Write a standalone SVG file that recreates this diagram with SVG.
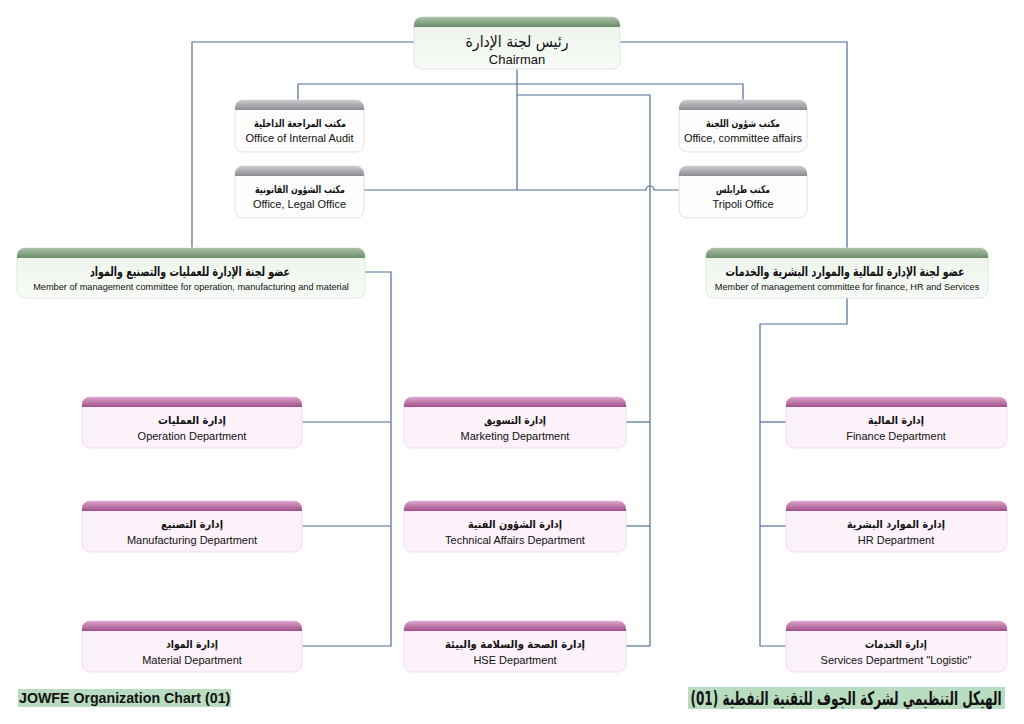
<svg xmlns="http://www.w3.org/2000/svg" width="1024" height="724" viewBox="0 0 1024 724">
<defs>
<linearGradient id="gG" x1="0" y1="0" x2="0" y2="1"><stop offset="0" stop-color="#a9c2a6"/><stop offset="1" stop-color="#6b8c69"/></linearGradient>
<linearGradient id="gY" x1="0" y1="0" x2="0" y2="1"><stop offset="0" stop-color="#cdcbd0"/><stop offset="1" stop-color="#8e8c93"/></linearGradient>
<linearGradient id="gP" x1="0" y1="0" x2="0" y2="1"><stop offset="0" stop-color="#dda5cd"/><stop offset="1" stop-color="#a14f88"/></linearGradient>
<linearGradient id="bGg" x1="0" y1="0" x2="0" y2="1"><stop offset="0" stop-color="#ecf3ea"/><stop offset="1" stop-color="#f8fbf7"/></linearGradient>
<style>
.c{fill:none;stroke:#4f6d9a;stroke-width:1.2}
.bG{fill:url(#bGg);stroke:#e1e7df;stroke-width:1}
.bY{fill:#fdfdfd;stroke:#e2e2e4;stroke-width:1}
.bP{fill:#fdf2fa;stroke:#efdfea;stroke-width:1}
.hG{fill:url(#gG)}
.hY{fill:url(#gY)}
.hP{fill:url(#gP)}
.ar{font-family:"DejaVu Sans","Liberation Sans",sans-serif;font-weight:bold;text-anchor:middle;fill:#111;direction:rtl}
.en{font-family:"Liberation Sans",Arial,sans-serif;text-anchor:middle;fill:#111}
.s11{font-size:11px}
.s10{font-size:10.5px}
</style>
</defs>
<rect width="1024" height="724" fill="#ffffff"/>

<g id="connectors">
<path class="c" d="M414,42 H192 V248"/>
<path class="c" d="M620,42 H847 V248"/>
<path class="c" d="M517,69 V190"/>
<path class="c" d="M298,100 V84 H743 V100"/>
<path class="c" d="M517,95 H650 V646"/>
<path class="c" d="M364,190 H646 A4,4 0 0 1 654,190 H679"/>
<path class="c" d="M365,272 H391 V646 H302"/>
<path class="c" d="M302,422 H391"/>
<path class="c" d="M302,526 H391"/>
<path class="c" d="M626,422 H650"/>
<path class="c" d="M626,526 H650"/>
<path class="c" d="M626,646 H650"/>
<path class="c" d="M847,298 V324 H760 V646 H786"/>
<path class="c" d="M760,422 H786"/>
<path class="c" d="M760,526 H786"/>
</g>

<g id="chairman">
<rect class="bG" x="414" y="17" width="206" height="52" rx="8"/>
<path class="hG" d="M414,27 V25 A8,8 0 0 1 422,17 H612 A8,8 0 0 1 620,25 V27 Z"/>
<text class="ar" x="517" y="47" textLength="103" lengthAdjust="spacingAndGlyphs" style="font-size:16px;font-weight:normal">رئيس لجنة الإدارة</text>
<text class="en" x="517" y="64" style="font-size:13px">Chairman</text>
</g>

<g id="office-audit">
<rect class="bY" x="235" y="100" width="129" height="52" rx="8"/>
<path class="hY" d="M235,110 V108 A8,8 0 0 1 243,100 H356 A8,8 0 0 1 364,108 V110 Z"/>
<text class="ar s10" x="300" y="127" textLength="92" lengthAdjust="spacingAndGlyphs">مكتب المراجعة الداخلية</text>
<text class="en s11" x="299.5" y="142">Office of Internal Audit</text>
</g>

<g id="office-legal">
<rect class="bY" x="235" y="166" width="129" height="52" rx="8"/>
<path class="hY" d="M235,176 V174 A8,8 0 0 1 243,166 H356 A8,8 0 0 1 364,174 V176 Z"/>
<text class="ar s10" x="300" y="193" textLength="90" lengthAdjust="spacingAndGlyphs">مكتب الشؤون القانونية</text>
<text class="en s11" x="299.5" y="208">Office, Legal Office</text>
</g>

<g id="office-committee">
<rect class="bY" x="679" y="100" width="128" height="52" rx="8"/>
<path class="hY" d="M679,110 V108 A8,8 0 0 1 687,100 H799 A8,8 0 0 1 807,108 V110 Z"/>
<text class="ar s10" x="743" y="127" textLength="74" lengthAdjust="spacingAndGlyphs">مكتب شؤون اللجنة</text>
<text class="en s11" x="743" y="142">Office, committee affairs</text>
</g>

<g id="office-tripoli">
<rect class="bY" x="679" y="166" width="128" height="52" rx="8"/>
<path class="hY" d="M679,176 V174 A8,8 0 0 1 687,166 H799 A8,8 0 0 1 807,174 V176 Z"/>
<text class="ar s10" x="743" y="193" textLength="54" lengthAdjust="spacingAndGlyphs">مكتب طرابلس</text>
<text class="en s11" x="743" y="208">Tripoli Office</text>
</g>

<g id="member-operations">
<rect class="bG" x="17" y="248" width="348" height="50" rx="8"/>
<path class="hG" d="M17,258 V256 A8,8 0 0 1 25,248 H357 A8,8 0 0 1 365,256 V258 Z"/>
<text class="ar" x="190" y="276" textLength="200" lengthAdjust="spacingAndGlyphs" style="font-size:13px">عضو لجنة الإدارة للعمليات والتصنيع والمواد</text>
<text class="en" x="191" y="290" style="font-size:9.2px">Member of management committee for operation, manufacturing and material</text>
</g>

<g id="member-finance">
<rect class="bG" x="706" y="248" width="282" height="50" rx="8"/>
<path class="hG" d="M706,258 V256 A8,8 0 0 1 714,248 H980 A8,8 0 0 1 988,256 V258 Z"/>
<text class="ar" x="0" y="0" transform="translate(845,276) scale(0.727,1)" style="font-size:13px">عضو لجنة الإدارة للمالية والموارد البشرية والخدمات</text>
<text class="en" x="847" y="290" style="font-size:9.2px">Member of management committee for finance, HR and Services</text>
</g>

<g id="dept-operation">
<rect class="bP" x="82" y="397" width="220" height="51" rx="8"/>
<path class="hP" d="M82,407 V405 A8,8 0 0 1 90,397 H294 A8,8 0 0 1 302,405 V407 Z"/>
<text class="ar s11" x="192" y="424" textLength="68" lengthAdjust="spacingAndGlyphs">إدارة العمليات</text>
<text class="en s11" x="192" y="440">Operation Department</text>
</g>

<g id="dept-manufacturing">
<rect class="bP" x="82" y="501" width="220" height="51" rx="8"/>
<path class="hP" d="M82,511 V509 A8,8 0 0 1 90,501 H294 A8,8 0 0 1 302,509 V511 Z"/>
<text class="ar s11" x="192" y="528" textLength="62" lengthAdjust="spacingAndGlyphs">إدارة التصنيع</text>
<text class="en s11" x="192" y="544">Manufacturing Department</text>
</g>

<g id="dept-material">
<rect class="bP" x="82" y="621" width="220" height="51" rx="8"/>
<path class="hP" d="M82,631 V629 A8,8 0 0 1 90,621 H294 A8,8 0 0 1 302,629 V631 Z"/>
<text class="ar s11" x="192" y="648" textLength="52" lengthAdjust="spacingAndGlyphs">إدارة المواد</text>
<text class="en s11" x="192" y="664">Material Department</text>
</g>

<g id="dept-marketing">
<rect class="bP" x="404" y="397" width="222" height="51" rx="8"/>
<path class="hP" d="M404,407 V405 A8,8 0 0 1 412,397 H618 A8,8 0 0 1 626,405 V407 Z"/>
<text class="ar s11" x="515" y="424" textLength="62" lengthAdjust="spacingAndGlyphs">إدارة التسويق</text>
<text class="en s11" x="515" y="440">Marketing Department</text>
</g>

<g id="dept-technical">
<rect class="bP" x="404" y="501" width="222" height="51" rx="8"/>
<path class="hP" d="M404,511 V509 A8,8 0 0 1 412,501 H618 A8,8 0 0 1 626,509 V511 Z"/>
<text class="ar s11" x="515" y="528" textLength="94" lengthAdjust="spacingAndGlyphs">إدارة الشؤون الفنية</text>
<text class="en s11" x="515" y="544">Technical Affairs Department</text>
</g>

<g id="dept-hse">
<rect class="bP" x="404" y="621" width="222" height="51" rx="8"/>
<path class="hP" d="M404,631 V629 A8,8 0 0 1 412,621 H618 A8,8 0 0 1 626,629 V631 Z"/>
<text class="ar s11" x="515" y="648" textLength="140" lengthAdjust="spacingAndGlyphs">إدارة الصحة والسلامة والبيئة</text>
<text class="en s11" x="515" y="664">HSE Department</text>
</g>

<g id="dept-finance">
<rect class="bP" x="786" y="397" width="221" height="51" rx="8"/>
<path class="hP" d="M786,407 V405 A8,8 0 0 1 794,397 H999 A8,8 0 0 1 1007,405 V407 Z"/>
<text class="ar s11" x="896" y="424" textLength="56" lengthAdjust="spacingAndGlyphs">إدارة المالية</text>
<text class="en s11" x="896" y="440">Finance Department</text>
</g>

<g id="dept-hr">
<rect class="bP" x="786" y="501" width="221" height="51" rx="8"/>
<path class="hP" d="M786,511 V509 A8,8 0 0 1 794,501 H999 A8,8 0 0 1 1007,509 V511 Z"/>
<text class="ar s11" x="896" y="528" textLength="98" lengthAdjust="spacingAndGlyphs">إدارة الموارد البشرية</text>
<text class="en s11" x="896" y="544">HR Department</text>
</g>

<g id="dept-services">
<rect class="bP" x="786" y="621" width="221" height="51" rx="8"/>
<path class="hP" d="M786,631 V629 A8,8 0 0 1 794,621 H999 A8,8 0 0 1 1007,629 V631 Z"/>
<text class="ar s11" x="896" y="648" textLength="62" lengthAdjust="spacingAndGlyphs">إدارة الخدمات</text>
<text class="en s11" x="896" y="664">Services Department "Logistic"</text>
</g>

<g id="title-en">
<rect x="18" y="689" width="213" height="18" fill="#b9dcc0"/>
<text x="19" y="703" style="font-family:'Liberation Sans',Arial,sans-serif;font-size:14.2px;font-weight:bold;fill:#111">JOWFE Organization Chart (01)</text>
</g>

<g id="title-ar">
<rect x="688" y="687" width="317" height="22" fill="#b9dcc0"/>
<text x="0" y="0" transform="translate(846,705) scale(0.634,1)" direction="rtl" style="font-family:'DejaVu Sans','Liberation Sans',sans-serif;font-size:19px;font-weight:bold;fill:#111;text-anchor:middle">الهيكل التنظيمي لشركة الجوف للتقنية النفطية (01)</text>
</g>
</svg>
